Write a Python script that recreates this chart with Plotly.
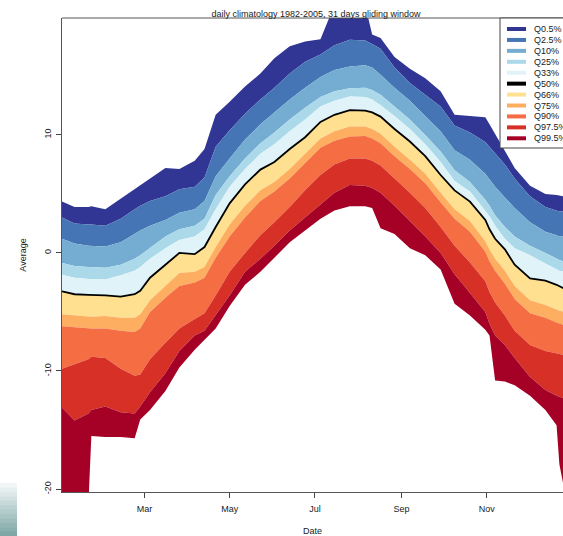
import plotly.graph_objects as go
from datetime import datetime, timedelta

# ---------------- data ----------------
TITLE = "daily climatology 1982-2005, 31 days gliding window"
X_TITLE = "Date"
Y_TITLE = "Average"

# day offsets from 1 January
day_of_year = [0, 9, 19, 21, 31, 42, 52, 56, 63, 74, 84, 95, 102, 110, 120, 131, 142, 152, 163, 174,
               185, 195, 206, 217, 222, 228, 238, 249, 260, 271, 281, 292, 303, 306, 310, 317, 324,
               335, 346, 354, 356, 359]

q00_5 = [4.35, 3.9, 3.9, 3.95, 3.7, 4.6, 5.4, 5.8, 6.3, 7.2, 7.1, 7.8, 8.8, 11.7, 12.8, 14.1, 15.2, 16.5,
         17.5, 17.9, 18.1, 21, 21, 21, 18.5, 18.2, 16.6, 15.6, 14.8, 13.7, 11.7, 11.6, 11.5, 10.9, 10.1,
         8.6, 7.2, 5.7, 5.0, 4.9, 4.85, 4.8]
q02_5 = [3.0, 2.5, 2.4, 2.4, 2.3, 2.9, 3.7, 4.0, 4.4, 4.8, 5.4, 5.6, 6.4, 9.0, 10.4, 11.8, 13.0, 14.0,
         15.2, 16.2, 16.8, 17.6, 18.05, 18.0, 17.7, 17.3, 15.7, 14.4, 13.4, 12.4, 10.8, 10.2, 9.4, 9.0,
         8.4, 7.5, 6.3, 4.8, 3.9, 3.6, 3.5, 3.5]
q10 = [1.2, 0.8, 0.6, 0.6, 0.55, 0.9, 1.6, 1.9, 2.3, 2.8, 3.4, 3.7, 4.4, 6.5, 8.0, 9.6, 10.9, 11.9,
       13.0, 14.0, 14.9, 15.5, 15.8, 15.9, 15.7, 15.1, 14.0, 12.9, 11.6, 10.3, 8.7, 7.9, 6.7, 6.2, 5.6,
       4.7, 3.8, 2.6, 1.8, 1.5, 1.4, 1.38]
q25 = [-0.85, -1.1, -1.2, -1.2, -1.25, -1.0, -0.5, -0.2, 0.4, 1.4, 2.0, 2.3, 2.9, 4.9, 6.5, 8.0, 9.3,
       10.2, 11.3, 12.3, 13.2, 13.7, 13.95, 14.0, 13.8, 13.4, 12.4, 11.3, 10.0, 8.6, 7.0, 6.0, 4.5, 4.0,
       3.2, 2.2, 1.4, 0.6, 0.0, -0.5, -0.6, -0.73]
q33 = [-1.85, -2.1, -2.2, -2.2, -2.25, -1.9, -1.5, -1.2, -0.5, 0.4, 1.1, 1.4, 2.0, 3.7, 5.6, 7.1, 8.4,
       9.2, 10.3, 11.3, 12.4, 12.9, 13.25, 13.2, 13.0, 12.5, 11.6, 10.5, 9.2, 7.7, 6.1, 5.2, 3.6, 3.1,
       2.3, 1.2, 0.4, -0.2, -0.9, -1.4, -1.5, -1.58]
q50 = [-3.25, -3.5, -3.55, -3.55, -3.6, -3.7, -3.5, -3.2, -2.1, -1.0, 0.0, -0.1, 0.5, 2.2, 4.2, 5.8,
       7.06, 7.7, 8.8, 9.8, 11.1, 11.7, 12.1, 12.05, 11.9, 11.55, 10.5, 9.44, 8.2, 6.6, 5.3, 4.35, 2.8,
       2.0, 1.2, 0.3, -1.0, -2.15, -2.35, -2.7, -2.85, -3.0]
q66 = [-5.2, -5.3, -5.4, -5.4, -5.35, -5.5, -5.5, -5.2, -4.0, -2.8, -1.7, -1.6, -1.2, 0.5, 2.4, 4.0,
       5.3, 6.0, 7.1, 8.4, 9.7, 10.3, 10.7, 10.7, 10.5, 10.1, 9.0, 7.9, 6.7, 5.1, 3.7, 2.7, 1.0, 0.3,
       -0.5, -1.5, -2.8, -4.0, -4.4, -4.8, -4.9, -4.97]
q75 = [-6.2, -6.3, -6.4, -6.4, -6.4, -6.6, -6.7, -6.4, -5.0, -3.8, -2.8, -2.5, -2.1, -0.4, 1.4, 3.0,
       4.4, 5.2, 6.3, 7.6, 8.9, 9.5, 9.86, 9.9, 9.7, 9.3, 8.2, 7.1, 5.9, 4.3, 2.9, 1.8, 0.1, -0.7,
       -1.5, -2.6, -3.9, -5.1, -5.5, -5.9, -6.0, -6.1]
q90 = [-9.8, -9.4, -9.0, -8.8, -8.9, -9.8, -10.4, -10.3, -9.0, -7.6, -6.4, -5.6, -5.1, -3.6, -1.6, 0.0,
       1.5, 2.6, 3.9, 5.3, 6.6, 7.5, 8.0, 8.0, 7.8, 7.4, 6.3, 5.1, 3.8, 2.2, 0.6, -0.8, -2.4, -3.3,
       -4.2, -5.3, -6.6, -7.8, -8.3, -8.5, -8.6, -8.64]
q97_5 = [-13.1, -14.2, -13.6, -13.3, -13.0, -13.5, -13.6, -13.0, -11.8, -10.2, -8.3, -7.0, -6.6, -5.3,
         -3.6, -1.6, -0.5, 0.6, 1.9, 3.0, 4.1, 5.1, 5.76, 5.7, 5.5, 5.1, 4.0, 2.7, 1.4, 0.0, -1.8,
         -3.4, -5.0, -6.0, -7.0, -7.8, -8.9, -10.5, -11.6, -12.1, -12.2, -12.3]
q99_5 = [-21, -21, -21, -15.5, -15.6, -15.6, -15.7, -14.1, -13.3, -11.7, -9.7, -8.2, -7.4, -6.4, -4.5,
         -2.7, -1.6, -0.4, 0.9, 1.9, 2.9, 3.6, 3.95, 3.95, 3.8, 2.1, 1.6, 0.4, -0.2, -1.4, -4.3, -5.3,
         -6.5, -7.0, -10.8, -10.9, -11.2, -12.1, -13.3, -14.6, -17.9, -19.7]

quantile_labels = ["Q0.5%", "Q2.5%", "Q10%", "Q25%", "Q33%", "Q50%",
                   "Q66%", "Q75%", "Q90%", "Q97.5%", "Q99.5%"]
band_colors = ["#313695", "#4575b4", "#74add1", "#abd9e9", "#e0f3f8", "#000000",
               "#fee090", "#fdae61", "#f46d43", "#d73027", "#a50026"]

month_ticks = ["2001-03-01", "2001-05-01", "2001-07-01", "2001-09-01", "2001-11-01"]
month_labels = ["Mar", "May", "Jul", "Sep", "Nov"]
y_ticks = [-20, -10, 0, 10]

# ---------------- figure ----------------
W, H = 563, 536
ML, MR, MT, MB = 62, 0, 18, 44
PW, PH = W - ML - MR, H - MT - MB
FONT = "Liberation Sans, Arial, Helvetica, sans-serif"
TXT = "#1a1a1a"
AXC = "#555"

base = datetime(2001, 1, 1)
dates = [base + timedelta(days=d) for d in day_of_year]
curves = [q00_5, q02_5, q10, q25, q33, q50, q66, q75, q90, q97_5, q99_5]
MEDIAN = 5

fig = go.Figure()
for i, (lab, ys) in enumerate(zip(quantile_labels, curves)):
    if i == 0:
        fill, fc = "none", None
    elif i <= MEDIAN:
        fill, fc = "tonexty", band_colors[i - 1]
    else:
        fill, fc = "tonexty", band_colors[i]
    fig.add_trace(go.Scatter(x=dates, y=ys, name=lab, mode="lines", line=dict(width=0, color=fc or "#fff"),
                             fill=fill, fillcolor=fc, showlegend=False, hoverinfo="skip"))
# median line on top
fig.add_trace(go.Scatter(x=dates, y=q50, name=quantile_labels[MEDIAN], mode="lines",
                         line=dict(color="#000000", width=1.8), showlegend=False))


def px_x(x):
    return (x - ML) / PW


def px_y(y):
    return (MT + PH - y) / PH


shapes = []
annotations = []

# top frame line (R box)
shapes.append(dict(type="line", xref="paper", yref="paper", x0=0, x1=px_x(W + 20), y0=1, y1=1,
                   line=dict(color=AXC, width=1), layer="above"))

# legend (R style, drawn as a box with line swatches)
LEG_L, LEG_B = 500, 148
shapes.append(dict(type="rect", xref="paper", yref="paper", x0=px_x(LEG_L), x1=px_x(W + 20),
                   y0=px_y(LEG_B), y1=px_y(MT), fillcolor="white", line=dict(color="#444", width=1),
                   layer="above"))
for i, (lab, col) in enumerate(zip(quantile_labels, band_colors)):
    yy = px_y(29 + 10.93 * i)
    shapes.append(dict(type="line", xref="paper", yref="paper", x0=px_x(507), x1=px_x(526), y0=yy, y1=yy,
                       line=dict(color=col, width=4), layer="above"))
    annotations.append(dict(text=lab, xref="paper", yref="paper", x=px_x(532), y=yy, xanchor="left",
                            yanchor="middle", showarrow=False, font=dict(size=9, color=TXT, family=FONT)))

# teal gradient patch in the lower-left corner
top_c, bot_c = (246, 250, 250), (122, 164, 164)
n = 12
y_top, y_bot = 483, 536
for k in range(n):
    t = (k + 0.5) / n
    c = tuple(int(top_c[j] + (bot_c[j] - top_c[j]) * t) for j in range(3))
    ya = y_top + (y_bot - y_top) * k / n
    yb = y_top + (y_bot - y_top) * (k + 1) / n + 0.5
    shapes.append(dict(type="rect", xref="paper", yref="paper", x0=px_x(0), x1=px_x(17),
                       y0=px_y(yb), y1=px_y(ya), fillcolor="rgb(%d,%d,%d)" % c, line=dict(width=0),
                       layer="below"))

fig.update_layout(
    width=W, height=H,
    margin=dict(l=ML, r=MR, t=MT, b=MB, pad=0, autoexpand=False),
    paper_bgcolor="white", plot_bgcolor="white",
    font=dict(family=FONT, size=9, color=TXT),
    showlegend=False,
    title=dict(text=TITLE, x=px_x(316), xref="paper", xanchor="center",
               y=1 - 16.5 / H, yref="container", yanchor="bottom",
               font=dict(size=9, color=TXT, family=FONT)),
    shapes=shapes, annotations=annotations,
)
fig.update_xaxes(type="date", range=[base, base + timedelta(days=358.6)],
                 tickvals=month_ticks, ticktext=month_labels,
                 ticks="outside", ticklen=5, tickwidth=1, tickcolor="#444",
                 showline=True, linecolor=AXC, linewidth=1, mirror=False,
                 showgrid=False, zeroline=False, tickfont=dict(size=9), ticklabelstandoff=3,
                 title=dict(text=X_TITLE, font=dict(size=9), standoff=16))
fig.update_yaxes(range=[-20.25, 19.9], tickvals=y_ticks, ticktext=[str(v) for v in y_ticks],
                 ticks="outside", ticklen=5, tickwidth=1, tickcolor="#444", tickangle=-90,
                 showline=True, linecolor=AXC, linewidth=1, mirror=False,
                 showgrid=False, zeroline=False, tickfont=dict(size=9), ticklabelstandoff=1,
                 title=dict(text=Y_TITLE, font=dict(size=9), standoff=15))

fig.write_html("out.html", config={"displayModeBar": False},
               post_script="document.body.style.margin='0';")
